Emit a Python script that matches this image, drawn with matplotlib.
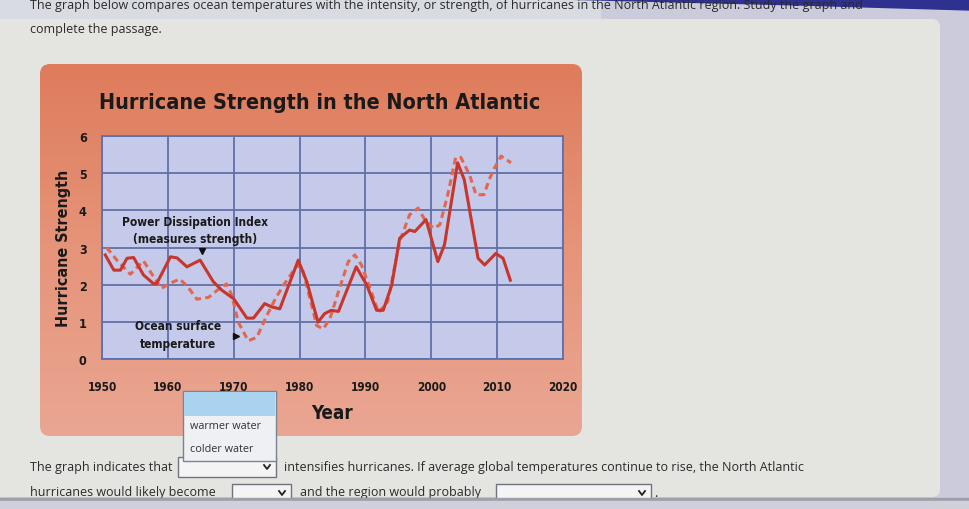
import matplotlib
matplotlib.use('Agg')
import matplotlib.pyplot as plt
import numpy as np
from matplotlib.patches import FancyBboxPatch, Rectangle, Polygon
from matplotlib.colors import LinearSegmentedColormap

# Power Dissipation Index (solid line)
pdi_years = [1950.5, 1951.8, 1952.8, 1953.8, 1954.8, 1956.3, 1957.8, 1958.3, 1960.4, 1961.4,
             1962.9, 1964.9, 1966.9, 1968.2, 1970.0, 1972.0, 1973.0, 1974.7, 1975.8, 1977.0,
             1979.8, 1981.1, 1982.8, 1983.8, 1984.8, 1985.9, 1988.6, 1990.2, 1991.7, 1992.7,
             1994.0, 1995.2, 1996.7, 1997.5, 1999.2, 2001.0, 2002.0, 2004.0, 2005.0, 2007.1,
             2008.1, 2009.8, 2010.9, 2012.0]
pdi_values = [2.80, 2.39, 2.39, 2.71, 2.73, 2.26, 2.03, 2.03, 2.75, 2.72,
              2.48, 2.66, 2.08, 1.85, 1.62, 1.10, 1.10, 1.49, 1.40, 1.35,
              2.66, 2.08, 0.99, 1.22, 1.31, 1.28, 2.48, 1.99, 1.31, 1.31,
              1.99, 3.25, 3.47, 3.43, 3.75, 2.62, 3.07, 5.28, 4.83, 2.71,
              2.53, 2.84, 2.71, 2.12]

# Ocean surface temperature (dashed line)
sst_years = [1950.7, 1952.3, 1954.3, 1956.3, 1957.7, 1959.0, 1960.5, 1961.8, 1963.0, 1964.4,
             1966.2, 1967.5, 1968.9, 1969.7, 1970.7, 1972.2, 1973.5, 1975.0, 1976.3, 1977.5,
             1979.6, 1980.4, 1981.6, 1982.6, 1983.6, 1984.6, 1985.9, 1987.4, 1988.4, 1989.4,
             1990.6, 1992.0, 1993.4, 1995.2, 1996.7, 1998.0, 1999.0, 2000.3, 2001.3, 2002.5,
             2003.7, 2004.5, 2005.8, 2006.8, 2008.0, 2008.8, 2009.6, 2010.6, 2012.1]
sst_values = [3.00, 2.65, 2.28, 2.64, 2.25, 1.90, 2.05, 2.15, 1.95, 1.61,
              1.66, 1.85, 2.02, 1.72, 0.99, 0.49, 0.58, 1.16, 1.61, 1.97,
              2.51, 2.45, 1.61, 0.90, 0.81, 1.08, 1.81, 2.62, 2.80, 2.53,
              1.95, 1.25, 1.55, 3.16, 3.88, 4.06, 3.75, 3.52, 3.61, 4.42,
              5.42, 5.42, 4.96, 4.42, 4.42, 4.83, 5.14, 5.46, 5.28]

year_ticks = [1950, 1960, 1970, 1980, 1990, 2000, 2010, 2020]
strength_ticks = [0, 1, 2, 3, 4, 5, 6]
menu_options = ["warmer water", "colder water"]

page_font = ['Open Sans', 'DejaVu Sans']
chart = dict(family='DejaVu Sans', fontstretch='condensed', fontweight='bold', color='#1a1a1a')
page = dict(family=page_font, color='#2a2a2a', va='center', fontsize=9.0)

fig = plt.figure(figsize=(9.7, 5.1), dpi=100)

# page drawn in pixel coordinates
bg = fig.add_axes([0, 0, 1, 1])
bg.set_xlim(0, 970)
bg.set_ylim(510, 0)
bg.axis('off')

bg.add_patch(Rectangle((0, 0), 970, 510, color='#cbcbdb', zorder=0))
bg.add_patch(Rectangle((0, 0), 600, 20, color='#d9dbe2', zorder=0.5))
bg.add_patch(FancyBboxPatch((-30, 20), 970, 478, boxstyle='round,pad=0,rounding_size=8',
                            fc='#e4e5e1', ec='none', zorder=1))
bg.add_patch(Polygon([(560, 0), (970, 0), (970, 11), (800, 6)], color='#2f3190', zorder=2))

bg.text(30, 5, "The graph below compares ocean temperatures with the intensity, or strength, of hurricanes "
        "in the North Atlantic region. Study the graph and", zorder=3, **page)
bg.text(30, 30, "complete the passage.", zorder=3, **page)

# orange chart card with gradient
card = FancyBboxPatch((40, 65), 542, 372, boxstyle='round,pad=0,rounding_size=10',
                      fc='none', ec='none', zorder=2)
bg.add_patch(card)
orange = LinearSegmentedColormap.from_list('card', ['#de7c5c', '#e6947a', '#eaa692'])
grad = np.linspace(0, 1, 200).reshape(-1, 1)
im = bg.imshow(grad, extent=(40, 582, 437, 65), cmap=orange, aspect='auto', zorder=2)
im.set_clip_path(card)
bg.set_xlim(0, 970)
bg.set_ylim(510, 0)

bg.text(320, 103, "Hurricane Strength in the North Atlantic", fontsize=15.5,
        ha='center', va='center', zorder=3, **chart)

# open dropdown list
bg.add_patch(Rectangle((183, 392), 93, 70, fc='#eef0f4', ec='#7d8292', lw=1, zorder=4))
bg.add_patch(Rectangle((184, 393), 91, 24, fc='#a9d3ee', ec='none', zorder=4))
for i, opt in enumerate(menu_options):
    bg.text(190, 427 + i * 23, opt, fontsize=7.8, family=page_font, color='#333333',
            va='center', zorder=5)

# passage with select boxes
bg.text(30, 468, "The graph indicates that", zorder=3, **page)
bg.text(284, 468, "intensifies hurricanes. If average global temperatures continue to rise, "
        "the North Atlantic", zorder=3, **page)
bg.text(30, 493, "hurricanes would likely become", zorder=3, **page)
bg.text(300, 493, "and the region would probably", zorder=3, **page)
bg.text(654, 494, ".", zorder=3, **page)

for x0, y0, w, h in [(178, 458, 98, 20), (232, 485, 59, 18), (496, 485, 155, 18)]:
    bg.add_patch(Rectangle((x0, y0), w, h, fc='#f3f4f3', ec='#6f7380', lw=1, zorder=3))
    ax0 = x0 + w - 9
    ay0 = y0 + h / 2
    bg.plot([ax0 - 3, ax0, ax0 + 3], [ay0 - 2, ay0 + 2, ay0 - 2], color='#222222', lw=1.3,
            zorder=4)

# bottom edge of the screen
bg.add_patch(Rectangle((0, 499), 970, 3, color='#9d9faa', zorder=6))
bg.add_patch(Rectangle((0, 502), 970, 8, color='#cfd0d9', zorder=6))

# the chart itself
ax = fig.add_axes([102 / 970, 1 - 360 / 510, 461 / 970, 223 / 510])
ax.set_facecolor('#c5caea')
grid_col = '#6170a8'

ax.plot(sst_years, sst_values, color='#e3664d', lw=2.2, dashes=(2.2, 1.4), zorder=3)
ax.plot(pdi_years, pdi_values, color='#c8352b', lw=2.2, zorder=4)

ax.set_xlim(1950, 2020)
ax.set_ylim(0, 6)
ax.set_xticks(year_ticks)
ax.set_yticks(strength_ticks)
ax.grid(True, color=grid_col, lw=1.3, zorder=1)
ax.set_axisbelow(True)
for sp in ax.spines.values():
    sp.set_color(grid_col)
    sp.set_linewidth(1.3)
ax.tick_params(length=0, colors='#1a1a1a')
ax.tick_params(axis='x', pad=15, labelsize=8.5)
ax.tick_params(axis='y', pad=11, labelsize=9)
for lab in ax.get_xticklabels() + ax.get_yticklabels():
    lab.set_fontweight('bold')
    lab.set_family('DejaVu Sans')
    lab.set_fontstretch('condensed')

ax.set_xlabel("Year", fontsize=13.5, labelpad=7, **chart)
ax.set_ylabel("Hurricane Strength", fontsize=11.5, labelpad=6, **chart)

ax.text(1964.1, 3.71, "Power Dissipation Index", fontsize=8.6,
        ha='center', va='center', zorder=5, **chart)
ax.text(1964.1, 3.23, "(measures strength)", fontsize=8.6,
        ha='center', va='center', zorder=5, **chart)
ax.plot([1965.2], [2.9], marker='v', color='#111111', ms=5, zorder=5)
ax.text(1961.5, 0.89, "Ocean surface", fontsize=8.6,
        ha='center', va='center', zorder=5, **chart)
ax.text(1961.5, 0.43, "temperature", fontsize=8.6,
        ha='center', va='center', zorder=5, **chart)
ax.plot([1970.3], [0.62], marker='>', color='#111111', ms=5, zorder=5)

fig.savefig('out.png', dpi=100)
